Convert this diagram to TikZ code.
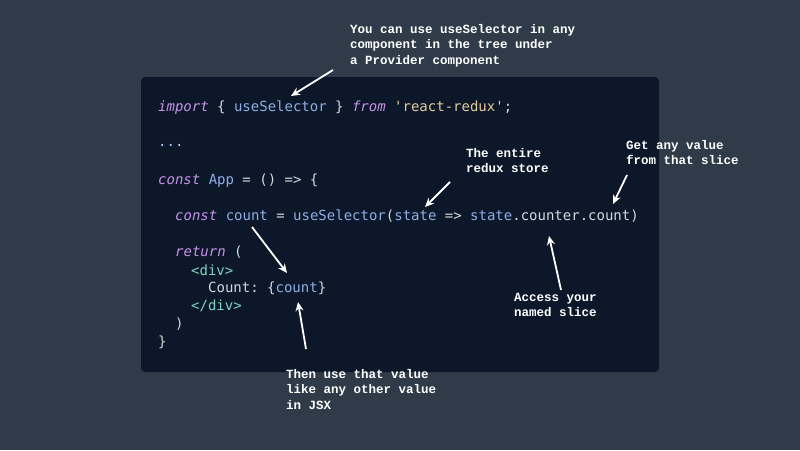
\documentclass[tikz,border=0pt]{standalone}
\usepackage{fontspec}
\setmonofont{DejaVu Sans Mono}
\newfontfamily\notefont{Liberation Mono}
\usetikzlibrary{arrows.meta}
\definecolor{bgcol}{HTML}{2F3B48}
\definecolor{panelcol}{HTML}{0C1829}
\definecolor{kwcol}{HTML}{C792EA}
\definecolor{idcol}{HTML}{8FAEE6}
\definecolor{strcol}{HTML}{E3CB9C}
\definecolor{tagcol}{HTML}{7FD3C0}
\definecolor{txtcol}{HTML}{D4D8DE}
\newcommand{\kw}[1]{\textcolor{kwcol}{\itshape #1}}
\newcommand{\iden}[1]{\textcolor{idcol}{#1}}
\newcommand{\str}[1]{\textcolor{strcol}{#1}}
\newcommand{\tagn}[1]{\textcolor{tagcol}{#1}}
\tikzset{
  code/.style={anchor=west, inner sep=0pt, text=txtcol, font=\ttfamily\fontsize{14}{16}\selectfont},
  note/.style={anchor=north west, inner sep=0pt, align=left, text=white, font=\notefont\bfseries\fontsize{12.5}{15.5}\selectfont},
  pointer/.style={draw=white, line width=1.8pt, -{Stealth[length=9pt,width=8pt]}}
}
\begin{document}
\begin{tikzpicture}[x=1pt,y=-1pt]
\fill[bgcol] (0,0) rectangle (800,450);
\fill[panelcol, rounded corners=4pt] (141,77) rectangle (659,372);
% code
\node[code] (l1) at (158,108) {\kw{import} \{ \iden{useSelector} \} \kw{from} \str{'react-redux'};};
\node[code] (l2) at (158,145) {\textcolor{idcol!70}{...}};
\node[code] (l3) at (158,181) {\kw{const} \iden{App} = () => \{};
\node[code] (l4) at (175,216) {\kw{const} \iden{count} = \iden{useSelector}(\iden{state} => \iden{state}.counter.count)};
\node[code] (l5) at (175,252) {\kw{return} (};
\node[code] (l6) at (191,270) {\tagn{<div>}};
\node[code] (l7) at (208,288) {Count: \{\iden{count}\}};
\node[code] (l8) at (191,306) {\tagn{</div>}};
\node[code] (l9) at (175,324) {)};
\node[code] (l10) at (158,342) {\}};
% notes
\node[note] (n1) at (350,24) {You can use useSelector in any\\component in the tree under\\a Provider component};
\node[note] (n2) at (466,148) {The entire\\redux store};
\node[note] (n3) at (626,140) {Get any value\\from that slice};
\node[note] (n4) at (514,293) {Access your\\named slice};
\node[note] (n5) at (286,369) {Then use that value\\like any other value\\in JSX};
% pointers
\coordinate (t1) at (333,70);  \coordinate (h1) at (291,96);
\coordinate (t2) at (450,182); \coordinate (h2) at (425,207);
\coordinate (t3) at (627,175); \coordinate (h3) at (613,204);
\coordinate (t4) at (561,290); \coordinate (h4) at (549,236);
\coordinate (t5) at (252,227); \coordinate (h5) at (287,273);
\coordinate (t6) at (306,349); \coordinate (h6) at (298,302);
\foreach \i in {1,...,6} \draw[pointer] (t\i) -- (h\i);
\end{tikzpicture}
\end{document}
